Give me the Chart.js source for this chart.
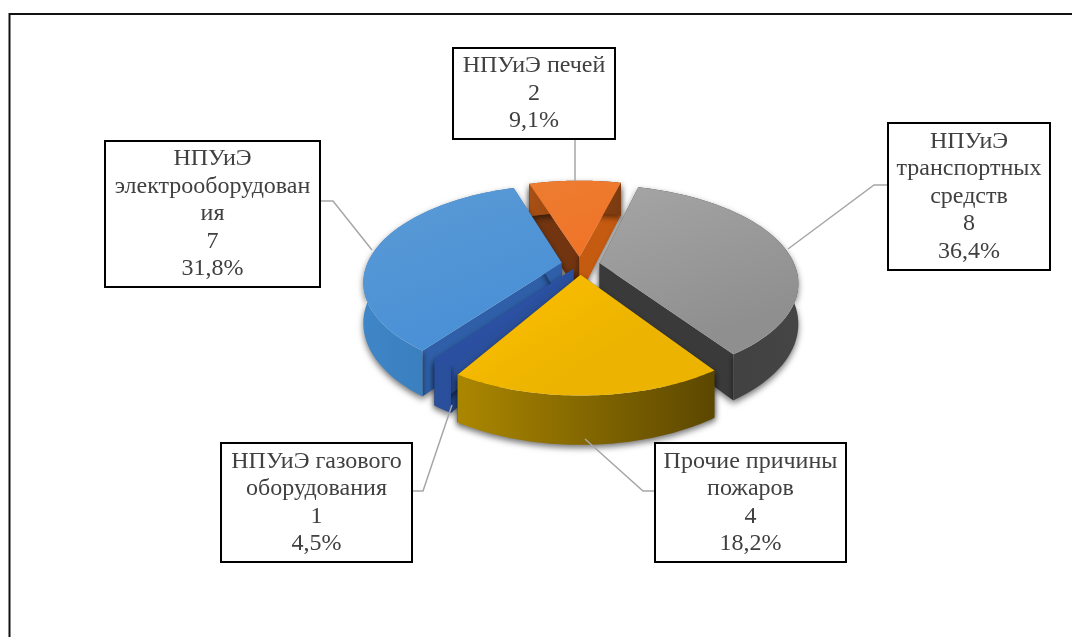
<!DOCTYPE html>
<html>
<head>
<meta charset="utf-8">
<title>Причины пожаров</title>
<script src="https://cdn.jsdelivr.net/npm/chart.js@4"></script>
<style>
  html, body { margin: 0; padding: 0; background: #fff; }
  canvas { display: block; }
</style>
</head>
<body>
<canvas id="fires-chart" width="1072" height="637"></canvas>
<script>
// Data, clockwise from the top slice
const categories = ['НПУиЭ печей', 'НПУиЭ транспортных средств', 'Прочие причины пожаров', 'НПУиЭ газового оборудования', 'НПУиЭ электрооборудования'];
const values = [2, 8, 4, 1, 7];
const wrappedNames = [
    ['НПУиЭ печей'],
    ['НПУиЭ', 'транспортных', 'средств'],
    ['Прочие причины', 'пожаров'],
    ['НПУиЭ газового', 'оборудования'],
    ['НПУиЭ', 'электрооборудован', 'ия']
];

// Slice colours
const topColors = ['#ed7d31', '#a5a5a5', '#ffc000', '#2f55a9', '#5b9bd5'];
const topColorsEnd = ['#ef7428', '#8f8f8f', '#ecb400', '#2a4d9e', '#4a90d6'];
const wallLeft = ['#a84f14', '#3a3a3a', '#ab8700', '#2a4f9c', '#3f86c8'];
const wallRight = ['#7a3a10', '#454545', '#5c4700', '#24478f', '#2f6fa8'];
const sideLeft = ['#733510', '#3f3f3f', '#8a6c00', '#2a4f9c', '#2f5fa8'];
const sideRight = ['#c55a11', '#3a3a3a', '#6b5300', '#2a4f9c', '#2f5fa8'];
const explode = [17, 20, 20, 10, 19];
// the tilted view foreshortens the front left, edges there sit a few degrees off
const edgeShift = [[0, 0], [0, 0], [0, 0], [0, -11], [-11, 0]];

// Label boxes [left, top, right, bottom] and their leader lines
const boxes = [
    [453, 48, 615, 139],
    [888, 123, 1050, 270],
    [655, 443, 846, 562],
    [221, 443, 412, 562],
    [105, 141, 320, 287]
];
const leaders = [
    [[575, 139], [575, 181]],
    [[888, 185], [874, 185], [788, 249]],
    [[655, 491], [643, 491], [585, 439]],
    [[412, 491], [423, 491], [452, 405]],
    [[320, 201], [333, 201], [372, 250]]
];

// Perspective of the tilted pie
const squash = 0.48, tilt = 0.19, depth = 39, paintOrder = [0, 1, 4, 3, 2];

const total = values.reduce((a, b) => a + b, 0);

function project(arc, u, v) {
    const p = 1 / (1 - tilt * v / arc.outerRadius);
    return [arc.x + u * p, arc.y + v * squash * p, depth * p];
}

function drawSlice(ctx, arc, i) {
    const off = arc.options.offset;
    const mid = (arc.startAngle + arc.endAngle) / 2;
    const ox = Math.cos(mid) * off, oy = Math.sin(mid) * off;
    const start = arc.startAngle + edgeShift[i][0] * Math.PI / 180;
    const end = arc.endAngle + edgeShift[i][1] * Math.PI / 180;
    const apex = project(arc, ox, oy);
    const rim = [];
    const steps = 60;
    for (let s = 0; s <= steps; s++) {
        const a = start + (end - start) * s / steps;
        rim.push(project(arc, ox + Math.cos(a) * arc.outerRadius, oy + Math.sin(a) * arc.outerRadius));
    }
    const xs = rim.map(r => r[0]), ys = rim.map(r => r[1]);
    const minX = Math.min(apex[0], ...xs), maxX = Math.max(apex[0], ...xs);
    const minY = Math.min(apex[1], ...ys), maxY = Math.max(apex[1], ...ys);
    const first = rim[0], last = rim[steps];

    // soft shadow under the side walls
    ctx.save();
    ctx.shadowColor = 'rgba(0,0,0,0.55)';
    ctx.shadowBlur = 6;
    ctx.shadowOffsetY = 3;

    // radial walls
    [[first, sideLeft[i]], [last, sideRight[i]]].forEach(([pt, col]) => {
        ctx.beginPath();
        ctx.moveTo(apex[0], apex[1]);
        ctx.lineTo(pt[0], pt[1]);
        ctx.lineTo(pt[0], pt[1] + pt[2]);
        ctx.lineTo(apex[0], apex[1] + apex[2]);
        ctx.closePath();
        ctx.fillStyle = col;
        ctx.fill();
    });

    // outer wall
    const wall = ctx.createLinearGradient(minX, 0, maxX, 0);
    wall.addColorStop(0, wallLeft[i]);
    wall.addColorStop(1, wallRight[i]);
    ctx.beginPath();
    rim.forEach((r, n) => n ? ctx.lineTo(r[0], r[1]) : ctx.moveTo(r[0], r[1]));
    for (let n = steps; n >= 0; n--) ctx.lineTo(rim[n][0], rim[n][1] + rim[n][2]);
    ctx.closePath();
    ctx.fillStyle = wall;
    ctx.fill();
    ctx.restore();

    // top face
    const face = ctx.createLinearGradient(minX, minY, minX + (maxX - minX) * 0.3, maxY);
    face.addColorStop(0, topColors[i]);
    face.addColorStop(1, topColorsEnd[i]);
    ctx.beginPath();
    ctx.moveTo(apex[0], apex[1]);
    rim.forEach(r => ctx.lineTo(r[0], r[1]));
    ctx.closePath();
    ctx.fillStyle = face;
    ctx.fill();
}

const pie3d = {
    id: 'pie3d',
    beforeDatasetsDraw(chart) {
        const ctx = chart.ctx;
        const arcs = chart.getDatasetMeta(0).data;
        paintOrder.forEach(i => drawSlice(ctx, arcs[i], i));
        return false;
    },
    afterDraw(chart) {
        const ctx = chart.ctx;
        ctx.save();

        // frame of the picture: only top and left edges show
        ctx.strokeStyle = '#111';
        ctx.lineWidth = 2;
        ctx.beginPath();
        ctx.moveTo(9.5, 637);
        ctx.lineTo(9.5, 14);
        ctx.lineTo(1072, 14);
        ctx.stroke();

        ctx.strokeStyle = '#a6a6a6';
        ctx.lineWidth = 1.5;
        leaders.forEach(line => {
            ctx.beginPath();
            line.forEach((p, n) => n ? ctx.lineTo(p[0], p[1]) : ctx.moveTo(p[0], p[1]));
            ctx.stroke();
        });

        ctx.font = '24px "Liberation Serif"';
        ctx.textAlign = 'center';
        ctx.textBaseline = 'middle';
        boxes.forEach((b, i) => {
            ctx.fillStyle = '#fff';
            ctx.fillRect(b[0], b[1], b[2] - b[0], b[3] - b[1]);
            ctx.strokeStyle = '#000';
            ctx.lineWidth = 2;
            ctx.strokeRect(b[0], b[1], b[2] - b[0], b[3] - b[1]);
            const percent = (values[i] / total * 100).toFixed(1).replace('.', ',') + '%';
            const lines = wrappedNames[i].concat([String(values[i]), percent]);
            const pitch = 27.5;
            const startY = (b[1] + b[3]) / 2 - (lines.length - 1) * pitch / 2;
            ctx.fillStyle = '#404040';
            lines.forEach((t, n) => ctx.fillText(t, (b[0] + b[2]) / 2, startY + n * pitch));
        });
        ctx.restore();
    }
};

const firesChart = new Chart(document.getElementById('fires-chart').getContext('2d'), {
    type: 'pie',
    data: {
        labels: categories,
        datasets: [{
            data: values,
            backgroundColor: topColors,
            offset: explode,
            borderWidth: 0
        }]
    },
    options: {
        responsive: false,
        animation: false,
        rotation: -18,
        radius: 195,
        layout: { padding: { left: 88, bottom: 107 } },
        plugins: { legend: { display: false }, tooltip: { enabled: false } }
    },
    plugins: [pie3d]
});
</script>
</body>
</html>
